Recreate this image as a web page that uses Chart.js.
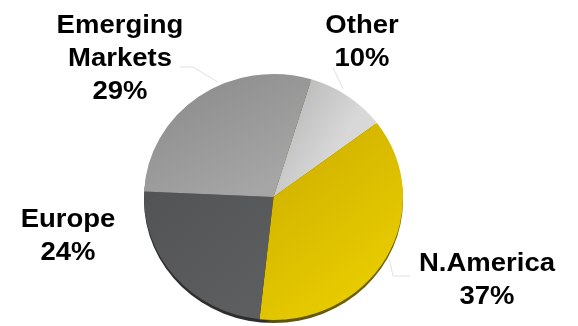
<!DOCTYPE html>
<html>
<head>
<meta charset="utf-8">
<title>Revenue by region</title>
<script src="https://cdn.jsdelivr.net/npm/chart.js@4"></script>
<style>
  html, body { margin: 0; padding: 0; background: #fff; }
  #wrap { width: 578px; height: 326px; }
</style>
</head>
<body>
<div id="wrap"><canvas id="regionChart" width="578" height="326"></canvas></div>
<script>
// chart data (clockwise from the top)
const categories = ["Other", "N.America", "Europe", "Emerging Markets"];
const shares = [10, 37, 24, 29];

// label placement: centre x and first baseline for each category
const labelX = [362, 487, 68, 120];
const labelY = [33, 271, 227, 33];
const lineGap = 33;

// slightly wider than tall, like the tilted original
const stretchX = 1.053;
const rimDepth = 3;

function pieGeom(chart) {
    const arc = chart.getDatasetMeta(0).data[0];
    return { x: arc.x, y: arc.y, r: arc.outerRadius };
}

function sliceFill(c) {
    const chart = c.chart;
    const area = chart.chartArea;
    const solid = ["#c4c4c4", "#dcc000", "#55575a", "#9a9a9a"];
    if (!area) return solid[c.dataIndex];
    const g = chart.ctx;
    let grad;
    if (c.dataIndex === 0) {
        grad = g.createLinearGradient(285, 95, 345, 130);
        grad.addColorStop(0, "#b8b8b8");
        grad.addColorStop(1, "#d8d8d8");
    } else if (c.dataIndex === 1) {
        grad = g.createLinearGradient(275, 130, 395, 270);
        grad.addColorStop(0, "#cdae00");
        grad.addColorStop(1, "#e9cd00");
    } else if (c.dataIndex === 2) {
        grad = g.createLinearGradient(150, 170, 260, 300);
        grad.addColorStop(0, "#505254");
        grad.addColorStop(1, "#5c5e60");
    } else {
        grad = g.createLinearGradient(200, 80, 260, 190);
        grad.addColorStop(0, "#8e8e8e");
        grad.addColorStop(1, "#a6a6a6");
    }
    return grad;
}

// stretch the pie a little and draw the dark rim underneath
const tiltPlugin = {
    id: "tilt",
    beforeDatasetsDraw(chart) {
        const ctx = chart.ctx;
        const p = pieGeom(chart);
        ctx.save();
        const rim = ctx.createLinearGradient(p.x - p.r * stretchX, 0, p.x + p.r * stretchX, 0);
        rim.addColorStop(0, "#2e2e2e");
        rim.addColorStop(0.47, "#2e2e2e");
        rim.addColorStop(0.49, "#5e5200");
        rim.addColorStop(1, "#7a6a00");
        ctx.fillStyle = rim;
        ctx.beginPath();
        ctx.ellipse(p.x, p.y + rimDepth, p.r * stretchX, p.r, 0, 0, Math.PI * 2);
        ctx.fill();
        ctx.restore();

        ctx.save();
        ctx.translate(p.x, p.y);
        ctx.scale(stretchX, 1);
        ctx.translate(-p.x, -p.y);
    },
    afterDatasetsDraw(chart) {
        chart.ctx.restore();
    }
};

// outside labels with faint leader lines
const labelPlugin = {
    id: "outsideLabels",
    afterDraw(chart) {
        const ctx = chart.ctx;
        const p = pieGeom(chart);
        const arcs = chart.getDatasetMeta(0).data;

        // leader lines (none for Europe): where along the slice they start, elbow, end
        const along = [0.4, 0.5, null, 0.6];
        const elbow = [[334, 70], [393, 276], null, [193, 67]];
        const leaderEnd = [[333, 68], [410, 276], null, [180, 67]];
        ctx.save();
        ctx.strokeStyle = "#e0e0e0";
        ctx.lineWidth = 1;
        arcs.forEach((a, i) => {
            if (along[i] === null) return;
            const ang = a.startAngle + (a.endAngle - a.startAngle) * along[i];
            const sx = p.x + Math.cos(ang) * p.r * 1.03 * stretchX;
            const sy = p.y + Math.sin(ang) * p.r * 1.03;
            ctx.beginPath();
            ctx.moveTo(sx, sy);
            ctx.lineTo(elbow[i][0], elbow[i][1]);
            ctx.lineTo(leaderEnd[i][0], leaderEnd[i][1]);
            ctx.stroke();
        });
        ctx.restore();

        ctx.save();
        ctx.fillStyle = "#000";
        ctx.font = "bold 25px 'Liberation Sans', Arial, sans-serif";
        ctx.textAlign = "center";
        ctx.textBaseline = "alphabetic";
        categories.forEach((name, i) => {
            const lines = name.split(" ").concat([shares[i] + "%"]);
            lines.forEach((t, k) => {
                ctx.save();
                ctx.translate(labelX[i], labelY[i] + k * lineGap);
                ctx.scale(1.1, 1);
                ctx.fillText(t, 0, 0);
                ctx.restore();
            });
        });
        ctx.restore();
    }
};

new Chart(document.getElementById("regionChart"), {
    type: "pie",
    data: {
        labels: categories,
        datasets: [{
            data: shares,
            backgroundColor: sliceFill,
            borderWidth: 0
        }]
    },
    options: {
        responsive: false,
        animation: false,
        rotation: 17,
        layout: {
            padding: { left: 150.5, right: 181.5, top: 74, bottom: 6 }
        },
        plugins: {
            legend: { display: false },
            tooltip: { enabled: false }
        }
    },
    plugins: [tiltPlugin, labelPlugin]
});
</script>
</body>
</html>
